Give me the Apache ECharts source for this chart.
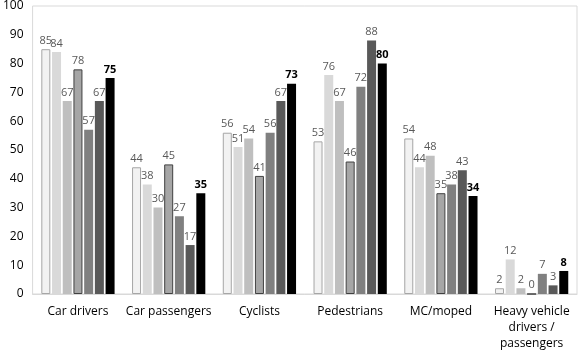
<!DOCTYPE html>
<html>
<head>
<meta charset="utf-8">
<script src="https://cdn.jsdelivr.net/npm/echarts@6/dist/echarts.min.js"></script>
<style>
  html, body { margin: 0; padding: 0; background: #fff; }
  #chart { width: 581px; height: 354px; }
</style>
</head>
<body>
<div id="chart"></div>
<script>
var categories = ["Car drivers", "Car passengers", "Cyclists", "Pedestrians", "MC/moped", "Heavy vehicle\ndrivers /\npassengers"];
var s1 = [85, 44, 56, 53, 54, 2];
var s2 = [84, 38, 51, 76, 44, 12];
var s3 = [67, 30, 54, 67, 48, 2];
var s4 = [78, 45, 41, 46, 35, 0];
var s5 = [57, 27, 56, 72, 38, 7];
var s6 = [67, 17, 67, 88, 43, 3];
var s7 = [75, 35, 73, 80, 34, 8];

var seriesData = [s1, s2, s3, s4, s5, s6, s7];
var fills = ["#f2f2f2", "#d9d9d9", "#bfbfbf", "#a6a6a6", "#808080", "#595959", "#000000"];
var borders = ["#a6a6a6", null, null, "#404040", null, null, null];

var font = "'Open Sans', 'Liberation Sans', sans-serif";

// 绘制图表
var myChart = echarts.init(document.getElementById("chart"));
myChart.setOption({
  animation: false,
  grid: {
    left: 29,
    right: 4,
    top: 5,
    bottom: 60,
    show: true,
    borderColor: "#d9d9d9",
    borderWidth: 1
  },
  xAxis: {
    type: "category",
    data: categories,
    axisTick: { show: false },
    axisLine: { lineStyle: { color: "#d9d9d9" } },
    axisLabel: {
      interval: 0,
      color: "#000",
      fontSize: 12,
      fontFamily: font,
      lineHeight: 16,
      margin: 10
    }
  },
  yAxis: {
    type: "value",
    min: 0,
    max: 100,
    interval: 10,
    splitLine: { show: false },
    axisLine: { show: false },
    axisTick: { show: false },
    axisLabel: { color: "#000", fontSize: 12, fontFamily: font, margin: 9 }
  },
  series: seriesData.map(function (d, i) {
    return {
      type: "bar",
      data: d,
      barWidth: 9,
      barGap: "19%",
      itemStyle: {
        color: fills[i],
        borderColor: borders[i] || fills[i],
        borderWidth: borders[i] ? 1 : 0
      },
      label: {
        show: true,
        position: "top",
        distance: 3,
        fontSize: 11,
        fontFamily: font,
        color: i === 6 ? "#000" : "#595959",
        fontWeight: i === 6 ? "bold" : "normal"
      }
    };
  })
});
</script>
</body>
</html>
